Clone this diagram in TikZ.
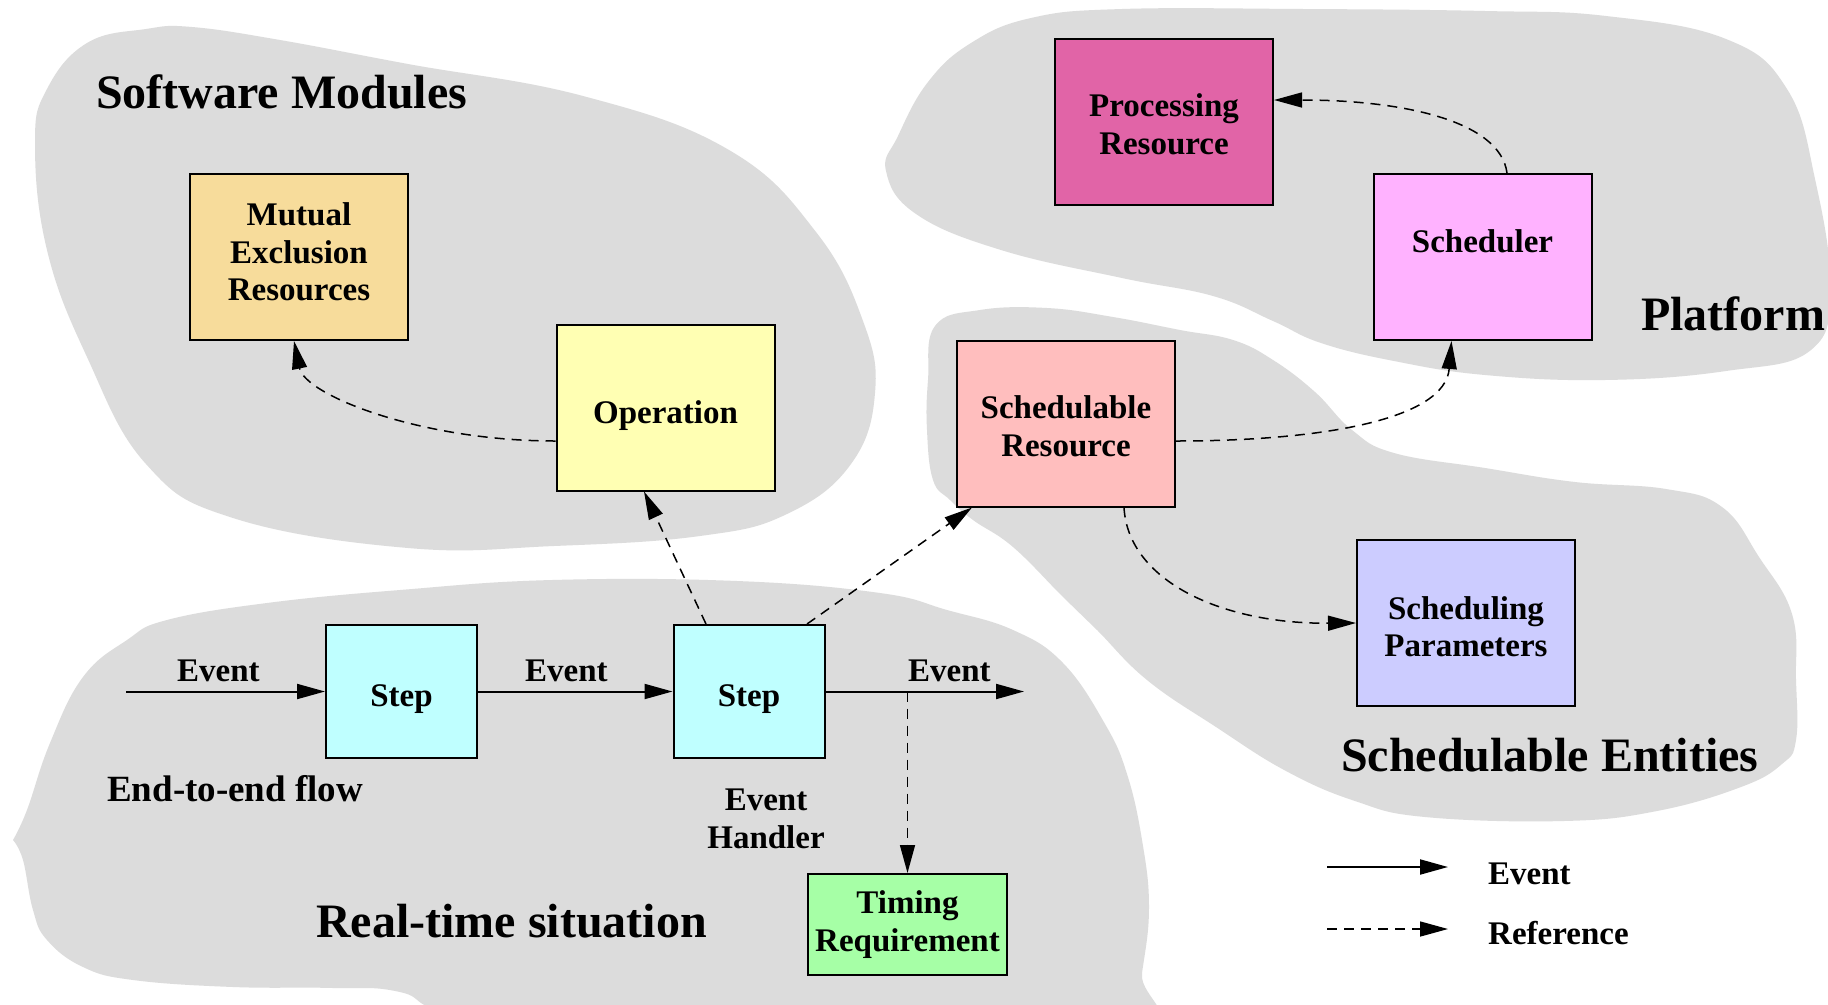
\documentclass[tikz,border=0pt]{standalone}
\usepackage{fontspec}
\setmainfont{Liberation Serif}
\usetikzlibrary{arrows.meta}
\definecolor{blobgray}{RGB}{220,220,220}
\definecolor{cME}{RGB}{247,220,155}
\definecolor{cOP}{RGB}{255,255,179}
\definecolor{cPR}{RGB}{225,100,167}
\definecolor{cSC}{RGB}{255,178,255}
\definecolor{cSR}{RGB}{255,190,190}
\definecolor{cSP}{RGB}{204,204,255}
\definecolor{cST}{RGB}{191,255,255}
\definecolor{cTM}{RGB}{166,255,166}
\newcommand\myboxfont{\fontsize{33}{37.5}\selectfont\bfseries}
\newcommand\mybigfont{\fontsize{48}{52}\selectfont\bfseries}
\newcommand\mymidfont{\fontsize{37}{41}\selectfont\bfseries}
\begin{document}
\begin{tikzpicture}[x=1pt,y=-1pt,
  blob/.style={fill=blobgray},
  box/.style={draw=black,line width=2pt,minimum width=218pt,minimum height=166pt,inner sep=0pt},
  lab/.style={inner sep=0pt,font=\myboxfont,align=center},
  big/.style={inner sep=0pt,font=\mybigfont},
  mid/.style={inner sep=0pt,font=\mymidfont},
  evarrow/.style={line width=2pt,-{Triangle[length=28pt,width=15pt]}},
  refarrow/.style={line width=1.5pt,dash pattern=on 10pt off 7pt,-{Triangle[length=28pt,width=15pt]}}]
\useasboundingbox (0,0) rectangle (1828,1004);
\fill[white] (0,0) rectangle (1828,1004);
\clip (0,0) rectangle (1828,1004);
% Software Modules blob
\fill[blob] plot[smooth cycle,tension=0.7] coordinates {(87,43) (146,29) (192,27) (280,40) (408,64) (583,96) (729,150) (816,232) (863,321) (875,393) (851,464) (787,514) (700,536) (554,546) (408,548) (233,518) (146,464) (87,357) (47,250) (35,143) (47,89)};
% Platform blob
\fill[blob] plot[smooth cycle,tension=0.7] coordinates {(886,171) (898,136) (928,82) (971,43) (1031,18) (1122,9) (1303,9) (1485,11) (1606,16) (1726,39) (1787,89) (1815,179) (1830,286) (1811,350) (1726,371) (1605,380) (1485,375) (1394,361) (1321,343) (1273,321) (1213,296) (1122,278) (1001,250) (916,214)};
% Schedulable Entities blob
\fill[blob] plot[smooth cycle,tension=0.7] coordinates {(935,326) (980,310) (1047,308) (1113,317) (1180,330) (1233,340) (1273,360) (1315,392) (1352,430) (1394,453) (1485,468) (1575,482) (1666,489) (1722,507) (1759,557) (1792,614) (1796,680) (1796,740) (1782,764) (1741,787) (1657,811) (1564,821) (1425,817) (1355,801) (1286,771) (1216,727) (1147,680) (1097,630) (1063,597) (1013,547) (973,520) (950,500) (933,480) (927,430) (928,380)};
% Real-time situation blob
\fill[blob] plot[smooth,tension=0.7] coordinates {(13,840) (27,810) (50,743) (83,677) (127,640) (167,620) (267,603) (400,590) (552,580) (737,581) (880,593) (947,610) (1013,630) (1063,663) (1105,724) (1127,774) (1142,840) (1149,907) (1142,973) (1130,1040) (800,1060) (480,1020) (400,992) (333,988) (233,987) (133,980) (83,967) (47,940) (33,910) (23,860) (13,840)} -- cycle;
% boxes
\node[box,fill=cME] (me) at (299,257) {};
\node[box,fill=cOP] (op) at (665.5,407.5) {};
\node[box,fill=cPR] (pr) at (1164,121.5) {};
\node[box,fill=cSC] (sch) at (1482.5,257) {};
\node[box,fill=cSR] (sr) at (1066,423.5) {};
\node[box,fill=cSP] (sp) at (1466,623) {};
\node[box,fill=cST,minimum width=151pt,minimum height=133pt] (s1) at (401.5,691.5) {};
\node[box,fill=cST,minimum width=151pt,minimum height=133pt] (s2) at (749,691.5) {};
\node[box,fill=cTM,minimum width=199pt,minimum height=101pt] (tm) at (907.5,924.5) {};
% box texts
\node[lab] (meL) at ([yshift=5pt]me.center) {Mutual\\Exclusion\\Resources};
\node[lab] (opL) at ([yshift=-8pt]op.center) {Operation};
\node[lab] (prL) at ([yshift=-2.5pt]pr.center) {Processing\\Resource};
\node[lab] (schL) at ([yshift=-2.5pt]sch.center) {Scheduler\\\phantom{X}};
\node[lab] (srL) at ([yshift=-2.5pt]sr.center) {Schedulable\\Resource};
\node[lab] (spL) at ([yshift=-3.5pt]sp.center) {Scheduling\\Parameters};
\node[lab] (s1L) at ([yshift=-8pt]s1.center) {Step};
\node[lab] (s2L) at ([yshift=-8pt]s2.center) {Step};
\node[lab] (tmL) at (tm.center) {Timing\\Requirement};
% region titles
\node[big,anchor=base west] (tsm) at (96,108) {Software Modules};
\node[big,anchor=base west] (tpl) at (1641,330) {Platform};
\node[big,anchor=base west] (tse) at (1341,771) {Schedulable Entities};
\node[big,anchor=base west] (trt) at (316,937) {Real-time situation};
% labels
\node[lab,anchor=base west] (ev1) at (177,681) {Event};
\node[lab,anchor=base west] (ev2) at (525,681) {Event};
\node[lab,anchor=base west] (ev3) at (908,681) {Event};
\node[mid,anchor=base west] (e2e) at (107,801) {End-to-end flow};
\node[lab] (eh) at (766,819) {Event\\Handler};
% event flow
\coordinate (ein) at (126,691.5);
\coordinate (eout) at (1024,691.5);
\coordinate (tp) at (907.5,691.5);
\draw[evarrow] (ein) -- (s1.west);
\draw[evarrow] (s1.east) -- (s2.west);
\draw[evarrow] (s2.east) -- (eout);
% references
\draw[refarrow] (tp) -- (tm.north);
\draw[refarrow] ([xshift=-43pt]s2.north) -- ([xshift=-21.5pt]op.south);
\draw[refarrow] ([xshift=58pt]s2.north) -- ([xshift=16pt]sr.south west);
\draw[refarrow] ([yshift=-33.5pt]op.west) .. controls (420,441) and (305,395) .. ([xshift=-5pt]me.south);
\draw[refarrow] ([yshift=-17.5pt]sr.east) .. controls (1320,441) and (1445,420) .. ([xshift=-31pt]sch.south);
\draw[refarrow] ([xshift=58pt]sr.south) .. controls (1128,580) and (1220,624) .. (sp.west);
\draw[refarrow] ([xshift=24.5pt]sch.north) .. controls (1500,120) and (1400,100) .. ([yshift=21.5pt]pr.east);
% legend
\coordinate (l1a) at (1327,867);
\coordinate (l1b) at (1448,867);
\coordinate (l2a) at (1327,929);
\coordinate (l2b) at (1448,929);
\draw[evarrow] (l1a) -- (l1b);
\draw[refarrow] (l2a) -- (l2b);
\node[lab,anchor=base west] (lev) at (1488,884) {Event};
\node[lab,anchor=base west] (lref) at (1488,944) {Reference};
\end{tikzpicture}
\end{document}
